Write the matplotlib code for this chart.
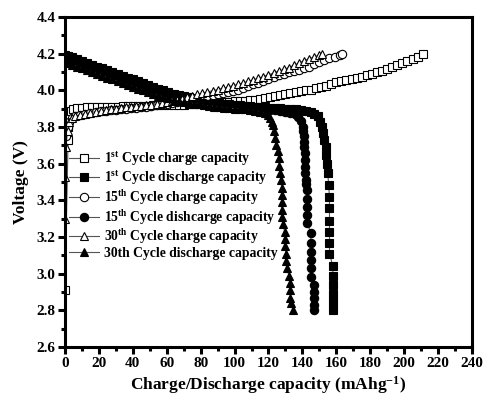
import matplotlib
matplotlib.use("Agg")
import matplotlib.pyplot as plt

plt.rcParams['font.family'] = ['Liberation Serif', 'DejaVu Serif']
plt.rcParams['font.weight'] = 'bold'
plt.rcParams['mathtext.fontset'] = 'custom'
plt.rcParams['mathtext.rm'] = 'Liberation Serif:bold'
plt.rcParams['mathtext.bf'] = 'Liberation Serif:bold'
plt.rcParams['mathtext.it'] = 'Liberation Serif:bold'

# (capacity mAh/g, voltage V)
charge_1 = [(0, 2.91), (1.8, 3.73), (1.8, 3.80), (2.5, 3.86), (3.5, 3.89), (5, 3.90), (7, 3.903),
            (10, 3.905), (13, 3.907), (16, 3.908), (19, 3.909), (22, 3.91), (25, 3.91), (28, 3.911),
            (31, 3.912), (34, 3.913), (37, 3.914), (40, 3.915), (43, 3.915), (46, 3.916), (49, 3.917),
            (52, 3.918), (55, 3.918), (58, 3.919), (61, 3.92), (64, 3.921), (67, 3.922), (70, 3.923),
            (73, 3.924), (76, 3.925), (79, 3.926), (82, 3.928), (85, 3.93), (88, 3.932), (91, 3.934),
            (94, 3.936), (97, 3.938), (100, 3.94), (103, 3.942), (106, 3.945), (109, 3.947), (112, 3.95),
            (115, 3.953), (118, 3.957), (121, 3.962), (124, 3.968), (127, 3.974), (130, 3.98), (133, 3.985),
            (136, 3.99), (139, 3.995), (142, 4.0), (145, 4.005), (148, 4.012), (151, 4.018), (154, 4.025),
            (157, 4.035), (160, 4.045), (163, 4.05), (166, 4.055), (169, 4.062), (172, 4.07), (175, 4.075),
            (178, 4.082), (181, 4.09), (184, 4.10), (187, 4.107), (190, 4.118), (193, 4.128), (196, 4.14),
            (199, 4.15), (202, 4.16), (205, 4.17), (208, 4.185), (211, 4.20)]

discharge_1 = [(0, 4.195), (2, 4.188), (4, 4.18), (7, 4.17), (10, 4.16), (13, 4.15), (16, 4.14), (19, 4.13),
               (22, 4.12), (25, 4.11), (28, 4.10), (31, 4.09), (34, 4.08), (37, 4.07), (40, 4.06), (43, 4.05),
               (46, 4.04), (49, 4.03), (52, 4.02), (55, 4.01), (58, 4.0), (61, 3.99), (64, 3.983), (67, 3.976),
               (70, 3.969), (73, 3.962), (76, 3.956), (79, 3.95), (82, 3.945), (85, 3.94), (88, 3.935),
               (91, 3.931), (94, 3.927), (97, 3.924), (100, 3.921), (103, 3.918), (106, 3.916), (109, 3.914),
               (112, 3.912), (115, 3.91), (118, 3.908), (121, 3.906), (124, 3.904), (127, 3.902), (130, 3.90),
               (133, 3.898), (136, 3.896), (139, 3.893), (142, 3.889), (145, 3.882), (147, 3.873), (149, 3.858),
               (150.5, 3.83), (151.5, 3.80), (152, 3.77), (153, 3.73), (154, 3.69), (154, 3.65), (154.5, 3.60),
               (155, 3.55), (155.5, 3.485), (156, 3.42), (156, 3.36), (156, 3.29), (156, 3.23), (156, 3.17),
               (156, 3.11), (158, 3.04), (158, 2.99), (158, 2.94), (158, 2.89), (158, 2.845), (158, 2.80)]

charge_15 = [(0.5, 3.75), (1.5, 3.80), (2.5, 3.83), (4, 3.85), (6, 3.86), (9, 3.868), (12, 3.873), (15, 3.878),
             (18, 3.882), (21, 3.886), (24, 3.889), (27, 3.892), (30, 3.895), (33, 3.898), (36, 3.90),
             (39, 3.903), (42, 3.906), (45, 3.909), (48, 3.912), (51, 3.916), (54, 3.92), (57, 3.924),
             (60, 3.928), (63, 3.932), (66, 3.937), (69, 3.942), (72, 3.947), (75, 3.952), (78, 3.957),
             (81, 3.963), (84, 3.968), (87, 3.974), (90, 3.98), (93, 3.986), (96, 3.992), (99, 3.997),
             (102, 4.005), (105, 4.014), (108, 4.023), (111, 4.033), (114, 4.042), (117, 4.052), (120, 4.062),
             (123, 4.072), (126, 4.082), (129, 4.09), (132, 4.098), (135, 4.104), (138, 4.11), (141, 4.12),
             (144, 4.13), (147, 4.142), (150, 4.155), (153, 4.165), (156, 4.175), (159, 4.183), (162, 4.192),
             (163.5, 4.20)]

discharge_15 = [(0, 4.175), (2, 4.168), (4, 4.16), (7, 4.15), (10, 4.14), (13, 4.13), (16, 4.12), (19, 4.11),
                (22, 4.10), (25, 4.09), (28, 4.08), (31, 4.07), (34, 4.06), (37, 4.05), (40, 4.04), (43, 4.03),
                (46, 4.02), (49, 4.01), (52, 4.0), (55, 3.99), (58, 3.98), (61, 3.972), (64, 3.965), (67, 3.958),
                (70, 3.952), (73, 3.946), (76, 3.94), (79, 3.935), (82, 3.93), (85, 3.925), (88, 3.921),
                (91, 3.917), (94, 3.914), (97, 3.911), (100, 3.908), (103, 3.906), (106, 3.904), (109, 3.902),
                (112, 3.90), (115, 3.898), (118, 3.896), (121, 3.894), (124, 3.892), (127, 3.889), (130, 3.885),
                (133, 3.878), (135.6, 3.87), (137.5, 3.855), (139, 3.835), (140.3, 3.80), (140.5, 3.78),
                (140.8, 3.75), (141, 3.72), (141, 3.69), (141.3, 3.66), (141.5, 3.62), (141.5, 3.58),
                (141.7, 3.55), (142, 3.51), (142, 3.49), (143, 3.456), (143, 3.41), (143, 3.363), (143, 3.32),
                (143, 3.276), (145, 3.22), (145, 3.167), (145, 3.118), (145, 3.074), (145, 3.03), (145, 2.98),
                (146.8, 2.938), (146.8, 2.90), (146.8, 2.87), (146.8, 2.83), (146.8, 2.80)]

charge_30 = [(0, 3.30), (0, 3.53), (0.5, 3.69), (1.5, 3.78), (2.5, 3.83), (4, 3.85), (6, 3.86), (9, 3.868),
             (12, 3.874), (15, 3.879), (18, 3.884), (21, 3.888), (24, 3.892), (27, 3.896), (30, 3.90),
             (33, 3.904), (36, 3.907), (39, 3.91), (42, 3.913), (45, 3.916), (48, 3.919), (51, 3.922),
             (54, 3.926), (57, 3.93), (60, 3.935), (63, 3.94), (66, 3.948), (69, 3.955), (72, 3.963),
             (75, 3.97), (78, 3.978), (81, 3.985), (84, 3.992), (87, 3.998), (90, 4.005), (93, 4.012),
             (96, 4.019), (99, 4.026), (102, 4.033), (105, 4.041), (108, 4.05), (111, 4.058), (114, 4.067),
             (117, 4.076), (120, 4.085), (123, 4.095), (126, 4.105), (129, 4.115), (132, 4.125), (135, 4.137),
             (138, 4.15), (141, 4.162), (144, 4.173), (147, 4.183), (150, 4.193), (151.5, 4.20)]

discharge_30 = [(0, 4.155), (2, 4.148), (4, 4.14), (7, 4.13), (10, 4.12), (13, 4.11), (16, 4.10),
                (19, 4.09), (22, 4.08), (25, 4.07), (28, 4.06), (31, 4.05), (34, 4.04), (37, 4.03),
                (40, 4.02), (43, 4.01), (46, 4.0), (49, 3.99), (52, 3.98), (55, 3.972), (58, 3.964),
                (61, 3.957), (64, 3.95), (67, 3.944), (70, 3.938), (73, 3.933), (76, 3.928), (79, 3.924),
                (82, 3.92), (85, 3.916), (88, 3.912), (91, 3.909), (94, 3.906), (97, 3.903), (100, 3.90),
                (103, 3.898), (106, 3.896), (109, 3.893), (112, 3.889), (115, 3.883), (118, 3.875),
                (120, 3.865), (121, 3.85), (122, 3.83), (122.5, 3.81), (123, 3.78), (124, 3.74), (124.5, 3.70),
                (125.5, 3.67), (126, 3.63), (126.5, 3.59), (127, 3.55), (127.5, 3.51), (127.7, 3.47),
                (127.7, 3.43), (127.7, 3.39), (127.7, 3.35), (128, 3.31), (128.5, 3.27), (129.5, 3.23),
                (130, 3.19), (130, 3.15), (130.3, 3.11), (130.5, 3.07), (131, 3.03), (132, 2.99), (132.5, 2.95),
                (133, 2.91), (133, 2.87), (133.5, 2.84), (134.4, 2.80)]

labels = ['1$^{st}$ Cycle charge capacity',
          '1$^{st}$ Cycle discharge capacity',
          '15$^{th}$ Cycle charge capacity',
          '15$^{th}$ Cycle dishcarge capacity',
          '30$^{th}$ Cycle charge capacity',
          '30th Cycle discharge capacity']

series = [charge_1, discharge_1, charge_15, discharge_15, charge_30, discharge_30]
markers = ['s', 's', 'o', 'o', '^', '^']
filled = [False, True, False, True, False, True]

fig = plt.figure(figsize=(4.87, 3.98), dpi=100)
ax = fig.add_axes([0.1335, 0.128, 0.8355, 0.829])

for data, m, f, lab in zip(series, markers, filled, labels):
    xs, ys = zip(*data)
    ax.plot(xs, ys, color='#555555', lw=0.8, marker=m, markersize=6,
            markerfacecolor='black' if f else 'white', markeredgecolor='black',
            markeredgewidth=0.8, label=lab)

ax.set_xlim(0, 240)
ax.set_ylim(2.6, 4.4)
ax.set_xticks(range(0, 241, 20))
ax.set_xticks(range(10, 240, 20), minor=True)
ax.set_yticks([2.6, 2.8, 3.0, 3.2, 3.4, 3.6, 3.8, 4.0, 4.2, 4.4])
ax.set_yticks([2.7, 2.9, 3.1, 3.3, 3.5, 3.7, 3.9, 4.1, 4.3], minor=True)
ax.yaxis.set_major_formatter(matplotlib.ticker.FormatStrFormatter('%.1f'))

for s in ax.spines.values():
    s.set_linewidth(2.2)
ax.tick_params(which='major', direction='out', length=5, width=2.2, labelsize=11, pad=2)
ax.tick_params(which='minor', direction='out', length=3, width=2.2)
ax.tick_params(top=False, right=False)

ax.set_xlabel('Charge/Discharge capacity (mAhg$^{-1}$)', fontsize=12.5, fontweight='bold', labelpad=3)
ax.set_ylabel('Voltage (V)', fontsize=12.5, fontweight='bold', labelpad=5)

leg = ax.legend(loc='upper left', bbox_to_anchor=(0.0, 0.61), frameon=False, fontsize=9.8,
                handlelength=2.2, handletextpad=0.35, labelspacing=0.06, borderaxespad=0.0,
                numpoints=1, borderpad=0.3)

fig.savefig('out.png', dpi=100)
